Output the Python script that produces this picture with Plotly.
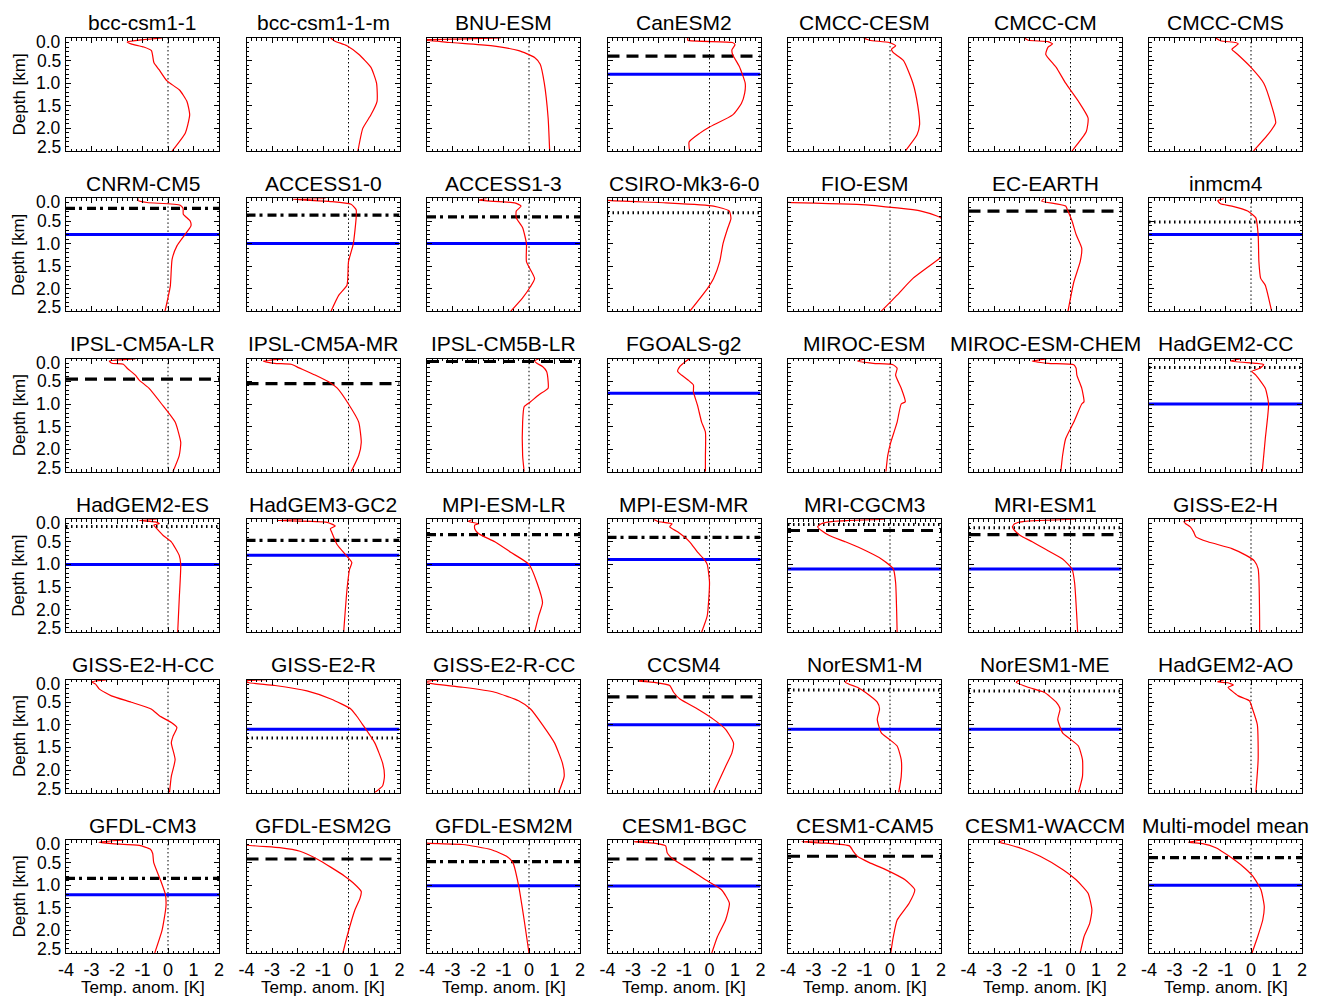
import numpy as np
import plotly.graph_objects as go

# ---------------- data ----------------
MODELS = [
    "bcc-csm1-1", "bcc-csm1-1-m", "BNU-ESM", "CanESM2", "CMCC-CESM", "CMCC-CM", "CMCC-CMS",
    "CNRM-CM5", "ACCESS1-0", "ACCESS1-3", "CSIRO-Mk3-6-0", "FIO-ESM", "EC-EARTH", "inmcm4",
    "IPSL-CM5A-LR", "IPSL-CM5A-MR", "IPSL-CM5B-LR", "FGOALS-g2", "MIROC-ESM", "MIROC-ESM-CHEM", "HadGEM2-CC",
    "HadGEM2-ES", "HadGEM3-GC2", "MPI-ESM-LR", "MPI-ESM-MR", "MRI-CGCM3", "MRI-ESM1", "GISS-E2-H",
    "GISS-E2-H-CC", "GISS-E2-R", "GISS-E2-R-CC", "CCSM4", "NorESM1-M", "NorESM1-ME", "HadGEM2-AO",
    "GFDL-CM3", "GFDL-ESM2G", "GFDL-ESM2M", "CESM1-BGC", "CESM1-CAM5", "CESM1-WACCM", "Multi-model mean",
]

# depth [km] of each profile point
DEPTHS = [
    [0, 0.04, 0.09, 0.13, 0.2, 0.28, 0.55, 0.7, 0.95, 1.15, 1.4, 1.7, 2.1, 2.5],
    [0, 0.07, 0.17, 0.36, 0.65, 1.0, 1.4, 1.7, 2.0, 2.5],
    [0, 0.02, 0.04, 0.07, 0.1, 0.17, 0.28, 0.43, 0.58, 1.0, 1.77, 2.5],
    [0, 0.05, 0.1, 0.15, 0.26, 0.37, 0.63, 1.0, 1.22, 1.45, 1.7, 1.97, 2.11, 2.3, 2.5],
    [0, 0.05, 0.1, 0.17, 0.25, 0.32, 0.5, 1.0, 1.5, 1.92, 2.14, 2.5],
    [0, 0.05, 0.08, 0.13, 0.2, 0.36, 0.65, 1.0, 1.4, 1.77, 2.07, 2.5],
    [0, 0.06, 0.1, 0.13, 0.25, 0.36, 0.65, 1.0, 1.5, 1.88, 2.14, 2.5],

    [0, 0.04, 0.09, 0.15, 0.22, 0.35, 0.5, 0.61, 0.79, 1.05, 1.35, 1.94, 2.5],
    [0, 0.02, 0.07, 0.13, 0.25, 0.43, 1.0, 1.4, 1.92, 2.14, 2.5],
    [0, 0.04, 0.1, 0.17, 0.28, 0.43, 0.65, 1.0, 1.4, 1.77, 1.95, 2.2, 2.5],
    [0, 0.045, 0.1, 0.17, 0.28, 0.45, 0.65, 1.0, 1.4, 1.77, 2.0, 2.5],
    [0, 0.09, 0.13, 0.21, 0.28, 0.39, 0.45, 0.7, 1.0, 1.3, 1.77, 2.14, 2.5],
    [0, 0.06, 0.12, 0.17, 0.28, 0.5, 0.8, 1.1, 1.4, 1.85, 2.5],
    [0, 0.05, 0.12, 0.17, 0.28, 0.43, 0.8, 1.4, 1.77, 1.92, 2.5],

    [0, 0.05, 0.1, 0.12, 0.21, 0.36, 0.47, 0.65, 1.0, 1.4, 1.85, 2.14, 2.5],
    [0, 0.05, 0.1, 0.12, 0.2, 0.36, 0.54, 0.65, 1.0, 1.4, 1.85, 2.14, 2.5],
    [0, 0.05, 0.1, 0.17, 0.28, 0.5, 0.65, 0.8, 0.95, 1.06, 1.4, 2.14, 2.5],
    [0, 0.06, 0.17, 0.28, 0.36, 0.47, 0.58, 0.73, 1.03, 1.4, 1.62, 2.14, 2.5],
    [0, 0.05, 0.1, 0.13, 0.21, 0.36, 0.65, 0.95, 1.0, 1.4, 1.85, 2.14, 2.5],
    [0, 0.05, 0.1, 0.13, 0.21, 0.36, 0.65, 0.95, 1.0, 1.4, 1.77, 2.14, 2.5],
    [0, 0.05, 0.1, 0.13, 0.21, 0.28, 0.36, 0.65, 1.0, 1.77, 2.5],

    [0, 0.03, 0.06, 0.1, 0.13, 0.21, 0.36, 0.5, 0.8, 1.0, 1.77, 2.5],
    [0, 0.03, 0.07, 0.15, 0.21, 0.3, 0.56, 0.82, 0.96, 1.11, 1.56, 2.5],
    [0, 0.05, 0.1, 0.13, 0.21, 0.32, 0.5, 0.73, 1.0, 1.4, 1.85, 2.14, 2.5],
    [0, 0.05, 0.1, 0.17, 0.28, 0.5, 0.73, 0.88, 1.0, 1.4, 2.14, 2.5],
    [0, 0.05, 0.1, 0.17, 0.25, 0.36, 0.5, 0.65, 0.88, 1.1, 1.4, 2.5],
    [0, 0.05, 0.1, 0.17, 0.25, 0.36, 0.5, 0.65, 0.88, 1.1, 1.4, 2.5],
    [0, 0.05, 0.1, 0.17, 0.28, 0.39, 0.5, 0.65, 0.8, 0.92, 1.1, 2.5],

    [0, 0.05, 0.1, 0.21, 0.36, 0.5, 0.65, 0.8, 0.95, 1.06, 1.25, 1.4, 1.77, 2.14, 2.5],
    [0, 0.03, 0.07, 0.13, 0.25, 0.43, 0.65, 0.8, 1.0, 1.4, 1.85, 2.14, 2.35, 2.5],
    [0, 0.05, 0.1, 0.17, 0.28, 0.47, 0.65, 1.0, 1.4, 1.85, 2.14, 2.5],
    [0, 0.03, 0.06, 0.13, 0.28, 0.43, 0.65, 0.88, 1.1, 1.4, 1.62, 1.92, 2.5],
    [0, 0.06, 0.17, 0.28, 0.5, 0.65, 0.88, 1.18, 1.32, 1.47, 1.77, 2.14, 2.5],
    [0, 0.06, 0.17, 0.28, 0.5, 0.65, 0.88, 1.18, 1.32, 1.47, 1.77, 2.14, 2.5],
    [0, 0.05, 0.07, 0.12, 0.17, 0.25, 0.36, 0.47, 0.65, 1.0, 1.77, 2.5],

    [0, 0.05, 0.08, 0.12, 0.2, 0.3, 0.5, 0.88, 1.21, 1.47, 1.99, 2.5],
    [0, 0.11, 0.17, 0.25, 0.43, 0.6, 0.8, 0.95, 1.14, 1.29, 1.55, 2.14, 2.5],
    [0, 0.07, 0.1, 0.21, 0.36, 0.5, 1.0, 1.77, 2.5],
    [0, 0.04, 0.07, 0.13, 0.28, 0.43, 0.65, 0.88, 1.1, 1.4, 1.77, 2.14, 2.5],
    [0, 0.04, 0.07, 0.13, 0.25, 0.36, 0.5, 0.65, 0.88, 1.1, 1.4, 1.77, 2.14, 2.5],
    [0, 0.05, 0.1, 0.21, 0.36, 0.65, 0.88, 1.18, 1.55, 1.85, 2.14, 2.5],
    [0, 0.05, 0.08, 0.17, 0.36, 0.58, 0.8, 1.1, 1.47, 1.77, 2.14, 2.5],
]

# temperature anomaly [K] at those depths
TEMPS = [
    [-0.24, -1.0, -1.6, -1.45, -0.95, -0.65, -0.55, -0.35, -0.04, 0.45, 0.74, 0.85, 0.68, 0.16],
    [-0.7, -0.53, -0.06, 0.4, 0.88, 1.1, 1.12, 0.88, 0.56, 0.37],
    [-1.1, -2.5, -4.3, -3.6, -3.1, -1.5, -0.4, 0.22, 0.44, 0.6, 0.75, 0.81],
    [-0.85, -0.85, 0.9, 1.0, 0.88, 0.91, 1.17, 1.4, 1.38, 1.25, 0.91, 0.0, -0.39, -0.8, -0.78],
    [-1.03, -0.8, -0.03, 0.22, 0.06, 0.12, 0.53, 0.9, 1.09, 1.16, 1.06, 0.6],
    [-1.8, -1.66, -0.88, -0.7, -0.88, -0.97, -0.56, -0.19, 0.31, 0.69, 0.62, 0.06],
    [-1.38, -1.2, -0.6, -0.5, -0.75, -0.53, 0.0, 0.5, 0.81, 0.97, 0.66, 0.1],

    [-1.15, -1.2, -0.82, 0.48, 0.59, 0.6, 0.87, 0.9, 0.68, 0.35, 0.16, 0.09, -0.12],
    [-0.9, -2.2, -0.7, 0.1, 0.3, 0.3, 0.19, 0.0, -0.06, -0.38, -0.69],
    [-1.66, -1.97, -0.56, -0.31, -0.5, -0.5, -0.25, -0.1, -0.1, 0.22, 0.06, -0.25, -0.72],
    [-4.6, -4.0, -1.7, 0.16, 0.78, 0.84, 0.72, 0.53, 0.4, 0.16, -0.09, -0.78],
    [-6.0, -4.0, -1.3, 0.28, 1.22, 1.84, 2.05, 2.5, 2.5, 2.0, 0.9, 0.28, -0.35],
    [-1.03, -1.13, -0.56, -0.19, -0.1, 0.06, 0.22, 0.44, 0.38, 0.13, -0.1],
    [-1.06, -1.3, -1.2, -0.75, -0.13, 0.19, 0.28, 0.31, 0.38, 0.56, 0.81],

    [-1.28, -2.3, -2.2, -1.75, -1.6, -1.28, -1.13, -0.75, -0.25, 0.28, 0.5, 0.44, 0.19],
    [-2.56, -3.34, -2.9, -2.25, -1.94, -1.31, -0.69, -0.44, 0.0, 0.4, 0.5, 0.4, 0.1],
    [0.38, 0.22, 0.31, 0.53, 0.69, 0.75, 0.75, 0.38, 0.06, -0.19, -0.25, -0.25, -0.19],
    [-0.78, -0.94, -1.16, -1.25, -1.1, -0.84, -0.63, -0.63, -0.47, -0.31, -0.16, -0.16, -0.16],
    [-0.97, -1.28, -0.66, 0.12, 0.28, 0.22, 0.44, 0.6, 0.44, 0.28, 0.03, -0.09, -0.16],
    [-0.94, -1.5, -0.88, 0.13, 0.22, 0.25, 0.44, 0.53, 0.44, 0.13, -0.19, -0.31, -0.38],
    [-0.44, -0.81, 0.19, 0.5, 0.34, 0.03, 0.19, 0.56, 0.69, 0.56, 0.44],

    [-0.44, -1.13, -0.5, -0.34, -0.56, -0.44, -0.19, 0.13, 0.44, 0.5, 0.44, 0.38],
    [-1.8, -2.8, -0.84, -0.52, -0.71, -0.65, -0.45, -0.06, 0.13, 0.04, -0.06, -0.19],
    [-2.19, -2.38, -1.97, -2.13, -2.13, -1.97, -1.34, -0.72, 0.0, 0.31, 0.53, 0.38, 0.22],
    [-2.19, -2.03, -1.47, -1.56, -1.25, -0.78, -0.47, -0.22, -0.09, 0.0, -0.09, -0.31],
    [-0.19, -2.22, -2.69, -2.84, -2.69, -2.38, -1.75, -1.13, -0.34, 0.13, 0.22, 0.28],
    [0.22, -1.81, -2.19, -2.28, -2.19, -1.97, -1.5, -1.03, -0.31, 0.06, 0.16, 0.28],
    [-2.16, -2.63, -2.56, -2.38, -2.25, -2.16, -1.69, -0.75, -0.19, 0.13, 0.28, 0.34],

    [-2.38, -3.0, -2.84, -2.69, -2.22, -1.44, -0.66, -0.34, 0.13, 0.35, 0.2, 0.13, 0.28, 0.13, 0.06],
    [-3.2, -4.1, -3.9, -2.88, -1.63, -0.69, 0.09, 0.31, 0.56, 1.03, 1.34, 1.41, 1.34, 1.03],
    [-3.53, -4.1, -3.69, -2.59, -1.34, -0.41, 0.06, 0.53, 1.0, 1.31, 1.38, 1.16],
    [-2.34, -2.81, -2.19, -1.56, -1.41, -1.16, -0.47, 0.16, 0.63, 0.94, 0.88, 0.63, 0.16],
    [-1.66, -1.75, -1.28, -0.97, -0.5, -0.41, -0.5, -0.34, -0.03, 0.28, 0.44, 0.44, 0.34],
    [-1.97, -2.13, -1.66, -1.03, -0.56, -0.41, -0.5, -0.31, 0.0, 0.31, 0.47, 0.47, 0.31],
    [-1.06, -1.31, -0.9, -0.69, -0.9, -0.75, -0.5, -0.06, 0.06, 0.25, 0.28, 0.19],

    [-1.73, -2.71, -2.2, -1.13, -0.7, -0.6, -0.56, -0.3, -0.1, -0.08, -0.23, -0.52],
    [-4.6, -4.0, -2.7, -1.9, -1.2, -0.7, -0.15, 0.19, 0.5, 0.45, 0.25, -0.06, -0.22],
    [-4.6, -4.0, -2.6, -1.5, -0.88, -0.63, -0.41, -0.19, 0.0],
    [-2.03, -2.97, -2.19, -1.72, -1.66, -1.41, -0.78, -0.16, 0.47, 0.78, 0.63, 0.31, 0.09],
    [-2.06, -3.47, -2.53, -1.59, -1.44, -1.28, -0.81, -0.19, 0.59, 0.97, 0.75, 0.28, 0.13, 0.03],
    [-2.59, -2.81, -2.44, -1.81, -1.19, -0.31, 0.22, 0.69, 0.84, 0.75, 0.53, 0.38],
    [-1.9, -2.45, -1.9, -1.38, -0.85, -0.33, 0.07, 0.39, 0.52, 0.46, 0.26, 0.04],
]

N = None
# depths [km] of the horizontal reference lines for each model (None = absent)
DASHED_DEPTH = [N, N, N, 0.4, N, N, N,
                N, N, N, N, N, 0.28, N,
                0.45, 0.55, 0.06, N, N, N, N,
                N, N, N, N, 0.25, 0.34, N,
                N, N, N, 0.38, N, N, N,
                N, 0.42, N, 0.42, 0.36, N, N]
DASHDOT_DEPTH = [N, N, N, N, N, N, N,
                 0.22, 0.37, 0.41, N, N, N, N,
                 N, N, N, N, N, N, N,
                 N, 0.47, 0.34, 0.4, N, N, N,
                 N, N, N, N, N, N, N,
                 0.85, N, 0.48, N, N, N, 0.39]
DOTTED_DEPTH = [N, N, N, N, N, N, N,
                N, N, N, 0.32, N, N, 0.52,
                N, N, N, N, N, N, 0.19,
                0.16, N, N, N, 0.12, 0.19, N,
                N, 1.29, N, N, 0.23, 0.25, N,
                N, N, N, N, N, N, N]
BLUE_DEPTH = [N, N, N, 0.8, N, N, N,
              0.8, 1.0, 1.0, N, N, N, 0.8,
              N, N, N, 0.76, N, N, 1.0,
              1.0, 0.8, 1.0, 0.89, 1.1, 1.1, N,
              N, 1.1, N, 1.0, 1.1, 1.1, N,
              1.21, N, 1.01, 1.02, N, N, 1.0]

X_TICKS = [-4, -3, -2, -1, 0, 1, 2]
X_TICK_TEXT = ["-4", "-3", "-2", "-1", "0", "1", "2"]
Y_TICKS = [0.0, 0.5, 1.0, 1.5, 2.0, 2.5]
Y_TICK_TEXT = ["0.0", "0.5", "1.0", "1.5", "2.0", "2.5"]
X_RANGE = [-4, 2]
Y_RANGE = [2.5, 0]

# ---------------- layout ----------------
W, H = 1320, 997
NCOL = 7
COL0, COLSTEP, PW = 66.0, 180.5, 153.0
ROW0, ROWSTEP, PH = 38.0, 160.4, 113.0
FONT = "Liberation Sans, Arial, Helvetica, sans-serif"

fig = go.Figure()
layout = dict(
    width=W, height=H, margin=dict(l=0, r=0, t=0, b=0, pad=0), autosize=False,
    paper_bgcolor="white", plot_bgcolor="white", showlegend=False,
    font=dict(family=FONT, color="black"),
)
annotations = []

x_minor = list(np.round(np.arange(-4, 2.0001, 0.2), 3))
y_minor = list(np.round(np.arange(0, 2.5001, 0.1), 3))

for i, name in enumerate(MODELS):
    r, c = divmod(i, NCOL)
    sfx = "" if i == 0 else str(i + 1)
    xa, ya = "x" + sfx, "y" + sfx
    left = COL0 + c * COLSTEP
    top = ROW0 + r * ROWSTEP
    xd = [left / W, (left + PW) / W]
    yd = [1 - (top + PH) / H, 1 - top / H]
    bottom_row = r == 5
    layout["xaxis" + sfx] = dict(
        domain=xd, anchor=ya, range=X_RANGE, tickmode="array", tickvals=X_TICKS, ticktext=X_TICK_TEXT,
        ticks="inside", ticklen=5, tickcolor="black", tickwidth=1,
        minor=dict(tickmode="array", tickvals=x_minor, ticks="inside", ticklen=2.5, tickcolor="black"),
        showline=True, linecolor="black", linewidth=1, mirror="allticks", automargin=False,
        showgrid=False, zeroline=False, showticklabels=bottom_row,
        tickfont=dict(size=18, family=FONT, color="black"), fixedrange=True,
    )
    layout["yaxis" + sfx] = dict(
        domain=yd, anchor=xa, range=Y_RANGE, tickmode="array", tickvals=Y_TICKS,
        ticks="inside", ticklen=5, tickcolor="black", tickwidth=1,
        minor=dict(tickmode="array", tickvals=y_minor, ticks="inside", ticklen=2.5, tickcolor="black"),
        showline=True, linecolor="black", linewidth=1, mirror="allticks", automargin=False,
        showgrid=False, zeroline=False, showticklabels=False, fixedrange=True,
    )

    # zero line
    fig.add_trace(go.Scatter(x=[0, 0], y=[Y_RANGE[1], Y_RANGE[0]], xaxis=xa, yaxis=ya, mode="lines",
                             line=dict(color="black", width=1, dash="1.5px,2.5px"), hoverinfo="skip"))
    # reference lines
    for depth, col, width, dash in [
        (BLUE_DEPTH[i], "#0000ff", 3, "solid"),
        (DASHED_DEPTH[i], "black", 3.2, "12px,7px"),
        (DASHDOT_DEPTH[i], "black", 3.2, "9px,4px,3px,5px"),
        (DOTTED_DEPTH[i], "black", 3, "1.5px,3.5px"),
    ]:
        if depth is not None:
            fig.add_trace(go.Scatter(x=X_RANGE, y=[depth, depth], xaxis=xa, yaxis=ya, mode="lines",
                                     line=dict(color=col, width=width, dash=dash), hoverinfo="skip"))
    # profile
    fig.add_trace(go.Scatter(x=TEMPS[i], y=DEPTHS[i], xaxis=xa, yaxis=ya, mode="lines",
                             line=dict(color="#ff0000", width=1.2, shape="spline", smoothing=0.5)))

    # panel title
    annotations.append(dict(text=name, xref="paper", yref="paper", x=(left + PW / 2) / W,
                            y=1 - (top - 1.5) / H, xanchor="center", yanchor="bottom", showarrow=False,
                            font=dict(size=21, family=FONT, color="black")))
    if c == 0:
        for v, t in zip(Y_TICKS, Y_TICK_TEXT):
            shift = -4 if v == Y_TICKS[0] else (4 if v == Y_TICKS[-1] else 0)
            annotations.append(dict(text=t, xref="paper", yref=ya, x=(left - 3) / W, y=v,
                                    xanchor="right", yanchor="middle", yshift=shift, showarrow=False,
                                    font=dict(size=17.5, family=FONT, color="black")))
        annotations.append(dict(text="Depth [km]", xref="paper", yref="paper", x=19 / W,
                                y=1 - (top + PH / 2) / H, textangle=-90, xanchor="center", yanchor="middle",
                                showarrow=False, font=dict(size=17, family=FONT, color="black")))
    if bottom_row:
        annotations.append(dict(text="Temp. anom. [K]", xref="paper", yref="paper",
                                x=(left + PW / 2) / W, y=1 - 987 / H, xanchor="center", yanchor="middle",
                                showarrow=False, font=dict(size=17, family=FONT, color="black")))

layout["annotations"] = annotations
fig.update_layout(**layout)
fig.write_html("out.html")
